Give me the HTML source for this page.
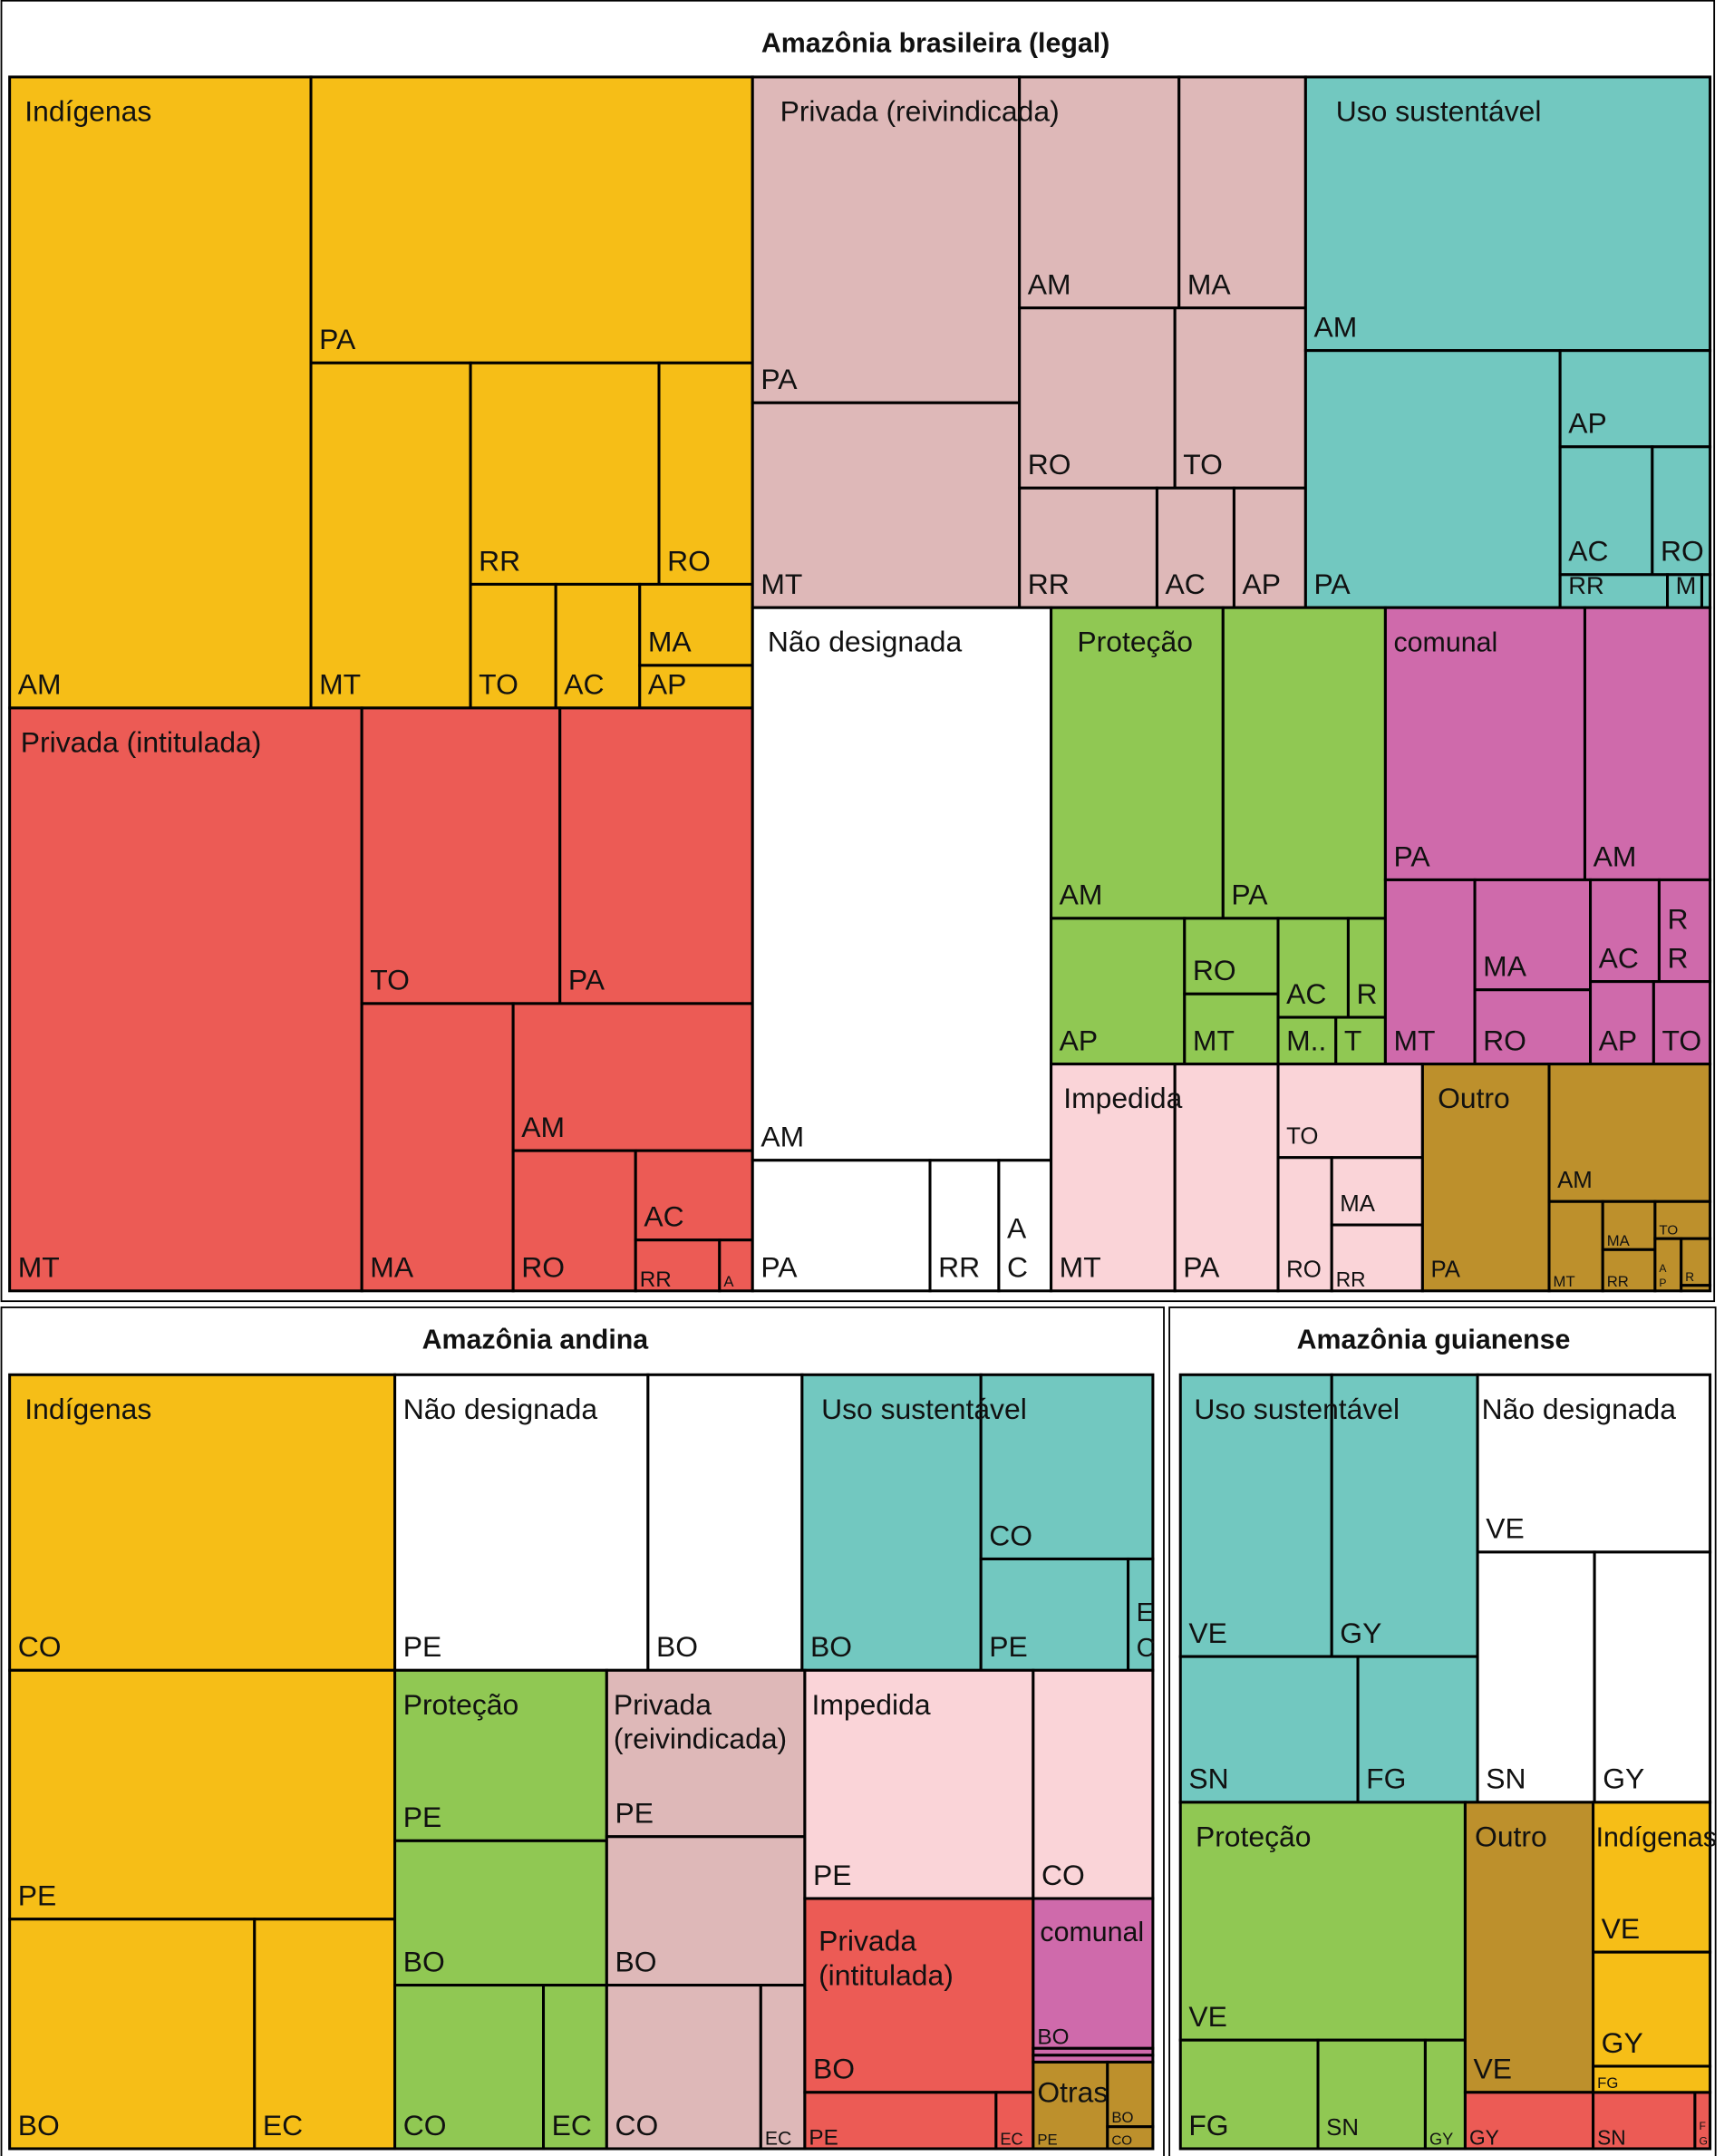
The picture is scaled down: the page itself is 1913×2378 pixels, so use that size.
<!DOCTYPE html>
<html><head><meta charset="utf-8"><style>
html,body{margin:0;padding:0;background:#fff}
svg{display:block}
text{font-family:"Liberation Sans",sans-serif;fill:#111}
</style></head><body>
<svg id="chart" width="1913" height="2378" viewBox="0 0 1260.4 1568.3" preserveAspectRatio="none" xmlns="http://www.w3.org/2000/svg">
<rect x="1" y="0.5" width="1245" height="946" fill="none" stroke="#000" stroke-width="1.2"/>
<rect x="1" y="951" width="845" height="620" fill="none" stroke="#000" stroke-width="1.2"/>
<rect x="850" y="951" width="397" height="620" fill="none" stroke="#000" stroke-width="1.2"/>
<text x="680" y="38" font-size="20" font-weight="bold" text-anchor="middle">Amazônia brasileira (legal)</text>
<text x="389" y="981" font-size="20" font-weight="bold" text-anchor="middle">Amazônia andina</text>
<text x="1042" y="981" font-size="20" font-weight="bold" text-anchor="middle">Amazônia guianense</text>
<g id="cells"></g>
<g id="glabels"></g>
</svg>
<script>
const colors={Y:"#F6BE17",R:"#EC5B55",P:"#DEB8B8",T:"#72C8C0",G:"#90C853",M:"#CF6AAB",L:"#FAD4D8",B:"#BD902C",W:"#FFFFFF"};
// cells: x0,y0,x1,y1,color,label,fontSize
const cells=[
[7,56,226,515,"Y","AM",21],[226,56,547,264,"Y","PA",21],[226,264,342,515,"Y","MT",21],
[342,264,479,425,"Y","RR",21],[479,264,547,425,"Y","RO",21],[342,425,404,515,"Y","TO",21],
[404,425,465,515,"Y","AC",21],[465,425,547,484,"Y","MA",21],[465,484,547,515,"Y","AP",21],
[7,515,263,939,"R","MT",21],[263,515,407,730,"R","TO",21],[407,515,547,730,"R","PA",21],
[263,730,373,939,"R","MA",21],[373,730,547,837,"R","AM",21],[373,837,462,939,"R","RO",21],
[462,837,547,902,"R","AC",21],[462,902,523,939,"R","RR",16],[523,902,547,939,"R","A",11],
[547,56,741,293,"P","PA",21],[547,293,741,442,"P","MT",21],[741,56,857,224,"P","AM",21],
[857,56,949,224,"P","MA",21],[741,224,854,355,"P","RO",21],[854,224,949,355,"P","TO",21],
[741,355,841,442,"P","RR",21],[841,355,897,442,"P","AC",21],[897,355,949,442,"P","AP",21],
[949,56,1243,255,"T","AM",21],[949,255,1134,442,"T","PA",21],[1134,255,1243,325,"T","AP",21],
[1134,325,1201,418,"T","AC",21],[1201,325,1243,418,"T","RO",21],[1134,418,1212,442,"T","RR",18],
[1212,418,1237,442,"T","M",18],[1237,418,1243,442,"T","",10],
[547,442,764,844,"W","AM",21],[547,844,676,939,"W","PA",21],[676,844,726,939,"W","RR",21],[726,844,764,939,"W","A\nC",21],
[764,442,889,668,"G","AM",21],[889,442,1007,668,"G","PA",21],[764,668,861,774,"G","AP",21],
[861,668,929,723,"G","RO",21],[861,723,929,774,"G","MT",21],[929,668,980,740,"G","AC",21],
[980,668,1007,740,"G","R",21],[929,740,971,774,"G","M..",21],[971,740,1007,774,"G","T",21],
[1007,442,1152,640,"M","PA",21],[1152,442,1243,640,"M","AM",21],[1007,640,1072,774,"M","MT",21],
[1072,640,1156,720,"M","MA",21],[1072,720,1156,774,"M","RO",21],[1156,640,1206,714,"M","AC",21],
[1206,640,1243,714,"M","R\nR",21],[1156,714,1202,774,"M","AP",21],[1202,714,1243,774,"M","TO",21],
[764,774,854,939,"L","MT",21],[854,774,929,939,"L","PA",21],[929,774,1034,842,"L","TO",17],
[929,842,968,939,"L","RO",17],[968,842,1034,891,"L","MA",17],[968,891,1034,939,"L","RR",15],
[1034,774,1126,939,"B","PA",17],[1126,774,1243,874,"B","AM",17],[1126,874,1165,939,"B","MT",11],
[1165,874,1203,909,"B","MA",11],[1165,909,1203,939,"B","RR",11],[1203,874,1243,901,"B","TO",10],
[1203,901,1222,939,"B","A\nP",8],[1222,901,1243,935,"B","R",9],[1222,935,1243,939,"B","",6],
[7,1000,287,1215,"Y","CO",21],[7,1215,287,1396,"Y","PE",21],[7,1396,185,1563,"Y","BO",21],[185,1396,287,1563,"Y","EC",21],
[287,1000,471,1215,"W","PE",21],[471,1000,583,1215,"W","BO",21],
[583,1000,713,1215,"T","BO",21],[713,1000,838,1134,"T","CO",21],[713,1134,820,1215,"T","PE",21],[820,1134,838,1215,"T","E\nC",19],
[287,1215,441,1339,"G","PE",21],[287,1339,441,1444,"G","BO",21],[287,1444,395,1563,"G","CO",21],[395,1444,441,1563,"G","EC",21],
[441,1215,585,1336,"P","PE",21],[441,1336,585,1444,"P","BO",21],[441,1444,553,1563,"P","CO",21],[553,1444,585,1563,"P","EC",14],
[585,1215,751,1381,"L","PE",21],[751,1215,838,1381,"L","CO",21],
[585,1381,751,1522,"R","BO",21],[585,1522,724,1563,"R","PE",16],[724,1522,751,1563,"R","EC",12],
[751,1381,838,1490,"M","BO",16],[751,1490,838,1495,"M","",6],[751,1495,838,1500,"M","",6],
[751,1500,805,1563,"B","PE",11],[805,1500,838,1547,"B","BO",11],[805,1547,838,1563,"B","CO",10],
[858,1000,968,1205,"T","VE",21],[968,1000,1074,1205,"T","GY",21],[858,1205,987,1311,"T","SN",21],[987,1205,1074,1311,"T","FG",21],
[1074,1000,1243,1129,"W","VE",21],[1074,1129,1159,1311,"W","SN",21],[1159,1129,1243,1311,"W","GY",21],
[858,1311,1065,1484,"G","VE",21],[858,1484,958,1563,"G","FG",21],[958,1484,1036,1563,"G","SN",17],[1036,1484,1065,1563,"G","GY",12],
[1065,1311,1158,1522,"B","VE",21],
[1065,1522,1158,1563,"R","GY",15],[1158,1522,1232,1563,"R","SN",15],[1232,1522,1243,1563,"R","F\nG",8],
[1158,1311,1243,1420,"Y","VE",21],[1158,1420,1243,1503,"Y","GY",21],[1158,1503,1243,1522,"Y","FG",11]
];
// group labels: offset, text, cell x, cell y
const groupLabels=[
[11,"Indígenas",7,56],[8,"Privada (intitulada)",7,515],[20,"Privada (reivindicada)",547,56],[22,"Uso sustentável",949,56],
[11,"Não designada",547,442],[19,"Proteção",764,442],[6,"comunal",1007,442],[9,"Impedida",764,774],[11,"Outro",1034,774],
[11,"Indígenas",7,1000],[6,"Não designada",287,1000],[14,"Uso sustentável",583,1000],[6,"Proteção",287,1215],
[5,"Privada",441,1215],[5,"(reivindicada)",441,1240],[5,"Impedida",585,1215],[10,"Privada",585,1387],[10,"(intitulada)",585,1412],
[5,"comunal",751,1380],[3,"Otras",751,1497],
[10,"Uso sustentável",858,1000],[3,"Não designada",1074,1000],[11,"Proteção",858,1311],[7,"Outro",1065,1311],[2,"Indígenas",1158,1311]
];
const NS="http://www.w3.org/2000/svg";
const g=document.getElementById("cells");
cells.forEach((c,i)=>{
  const [x0,y0,x1,y1,col,lab,fs]=c;
  const r=document.createElementNS(NS,"rect");
  r.setAttribute("x",x0);r.setAttribute("y",y0);r.setAttribute("width",x1-x0);r.setAttribute("height",y1-y0);
  r.setAttribute("fill",colors[col]);r.setAttribute("stroke","#000");r.setAttribute("stroke-width","2");
  
  
  g.appendChild(r);
  if(lab){
    const lines=lab.split("\n");
    lines.forEach((ln,k)=>{
      const t=document.createElementNS(NS,"text");
      const pad=fs>=17?6:3;
      t.setAttribute("x",x0+pad);
      t.setAttribute("y",y1-(fs>=17?10:3)-(lines.length-1-k)*fs*1.35);
      t.setAttribute("font-size",fs);
      t.textContent=ln;
      
      
      g.appendChild(t);
    });
  }
});
const gl=document.getElementById("glabels");
groupLabels.forEach(l=>{
  const t=document.createElementNS(NS,"text");
  t.setAttribute("x",l[2]+l[0]);t.setAttribute("y",l[3]+32);
  t.setAttribute("font-size",(l[1]==="comunal"||l[1]==="Indígenas")&&l[2]>740?20:21);
  t.textContent=l[1];
  
  
  gl.appendChild(t);
});
</script>
</body></html>
